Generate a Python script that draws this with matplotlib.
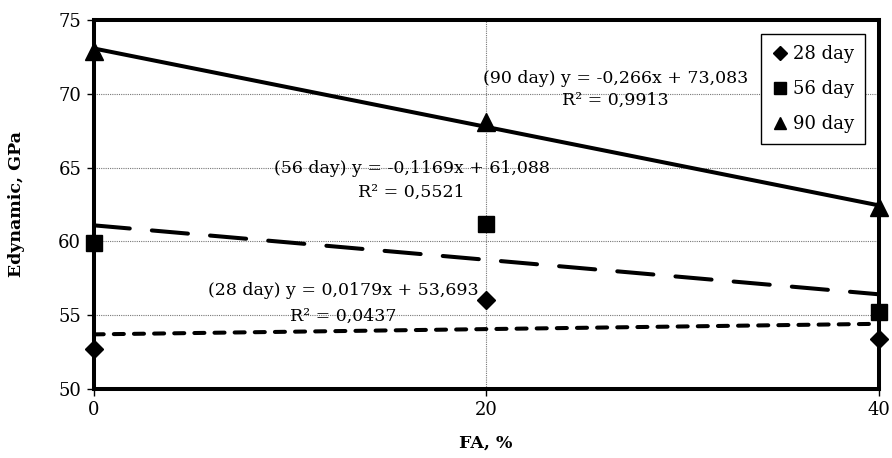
import numpy as np
import matplotlib
matplotlib.use('Agg')
import matplotlib.pyplot as plt

plt.rcParams['font.family'] = 'DejaVu Serif'

fa = [0, 20, 40]
labels = ['28 day', '56 day', '90 day']
e28 = [52.7, 56.0, 53.4]
e56 = [59.9, 61.2, 55.2]
e90 = [72.9, 68.1, 62.3]

# trendline coefficients (slope, intercept) and R^2 as printed on the chart
slopes = [0.0179, -0.1169, -0.266]
intercepts = [53.693, 61.088, 73.083]
r2 = [0.0437, 0.5521, 0.9913]

markers = ['D', 's', '^']
msizes = [9.5, 12, 13]
LW = 2.9

fig = plt.figure(figsize=(8.92, 4.58), dpi=100)
ax = fig.add_axes([0.105, 0.151, 0.880, 0.805])

for vals, lab, m, ms in zip([e28, e56, e90], labels, markers, msizes):
    ax.plot(fa, vals, linestyle='none', marker=m, markersize=ms, color='black',
            label=lab, clip_on=False, zorder=5)

xs = np.array([fa[0], fa[-1]])
styles = [(0, (2.5, 2.5)), (0, (9, 5.5)), 'solid']
for k, a, b in zip(range(3), slopes, intercepts):
    ax.plot(xs, a * xs + b, color='black', lw=LW, linestyle=styles[k],
            dash_capstyle='round', solid_capstyle='butt', zorder=4)

# equation labels: (x centre, y of first line, y of second line)
lab_pos = [(12.74, 56.7, 54.95), (16.2, 64.97, 63.3), (26.6, 71.07, 69.55)]
for k, (px, py1, py2) in enumerate(lab_pos):
    sign = '-' if slopes[k] < 0 else ''
    eq = '({}) y = {}{}x + {}'.format(labels[k], sign,
                                      ('%g' % abs(slopes[k])).replace('.', ','),
                                      ('%.3f' % intercepts[k]).replace('.', ','))
    ax.text(px, py1, eq, ha='center', va='center', fontsize=12.5, zorder=3)
    ax.text(px, py2, 'R² = ' + ('%.4f' % r2[k]).replace('.', ','),
            ha='center', va='center', fontsize=12.5, zorder=3)

ax.set_xlim(0, 40)
ax.set_ylim(50, 75)
ax.set_xticks(fa)
ax.set_yticks([50, 55, 60, 65, 70, 75])
ax.tick_params(labelsize=13, length=5, width=1, direction='out', pad=4)
ax.grid(True, color='#777777', linestyle=(0, (1, 1)), linewidth=0.8, zorder=1)
ax.set_axisbelow(True)
for s in ax.spines.values():
    s.set_linewidth(LW)

ax.set_xlabel('FA, %', fontsize=12.5, fontweight='bold')
ax.set_ylabel('Edynamic, GPa', fontsize=12.5, fontweight='bold')
ax.xaxis.set_label_coords(0.5, -0.125)
ax.yaxis.set_label_coords(-0.087, 0.5)

leg = ax.legend(loc='upper right', bbox_to_anchor=(0.983, 0.962), fontsize=13,
                frameon=True, fancybox=False, edgecolor='black', framealpha=1,
                handlelength=0.9, handletextpad=0.3, labelspacing=0.95,
                borderpad=0.6, borderaxespad=0)
leg.get_frame().set_linewidth(1.0)
for h in leg.legend_handles:
    h.set_markersize(h.get_markersize() * 0.7)

fig.savefig('out.png', dpi=100)
